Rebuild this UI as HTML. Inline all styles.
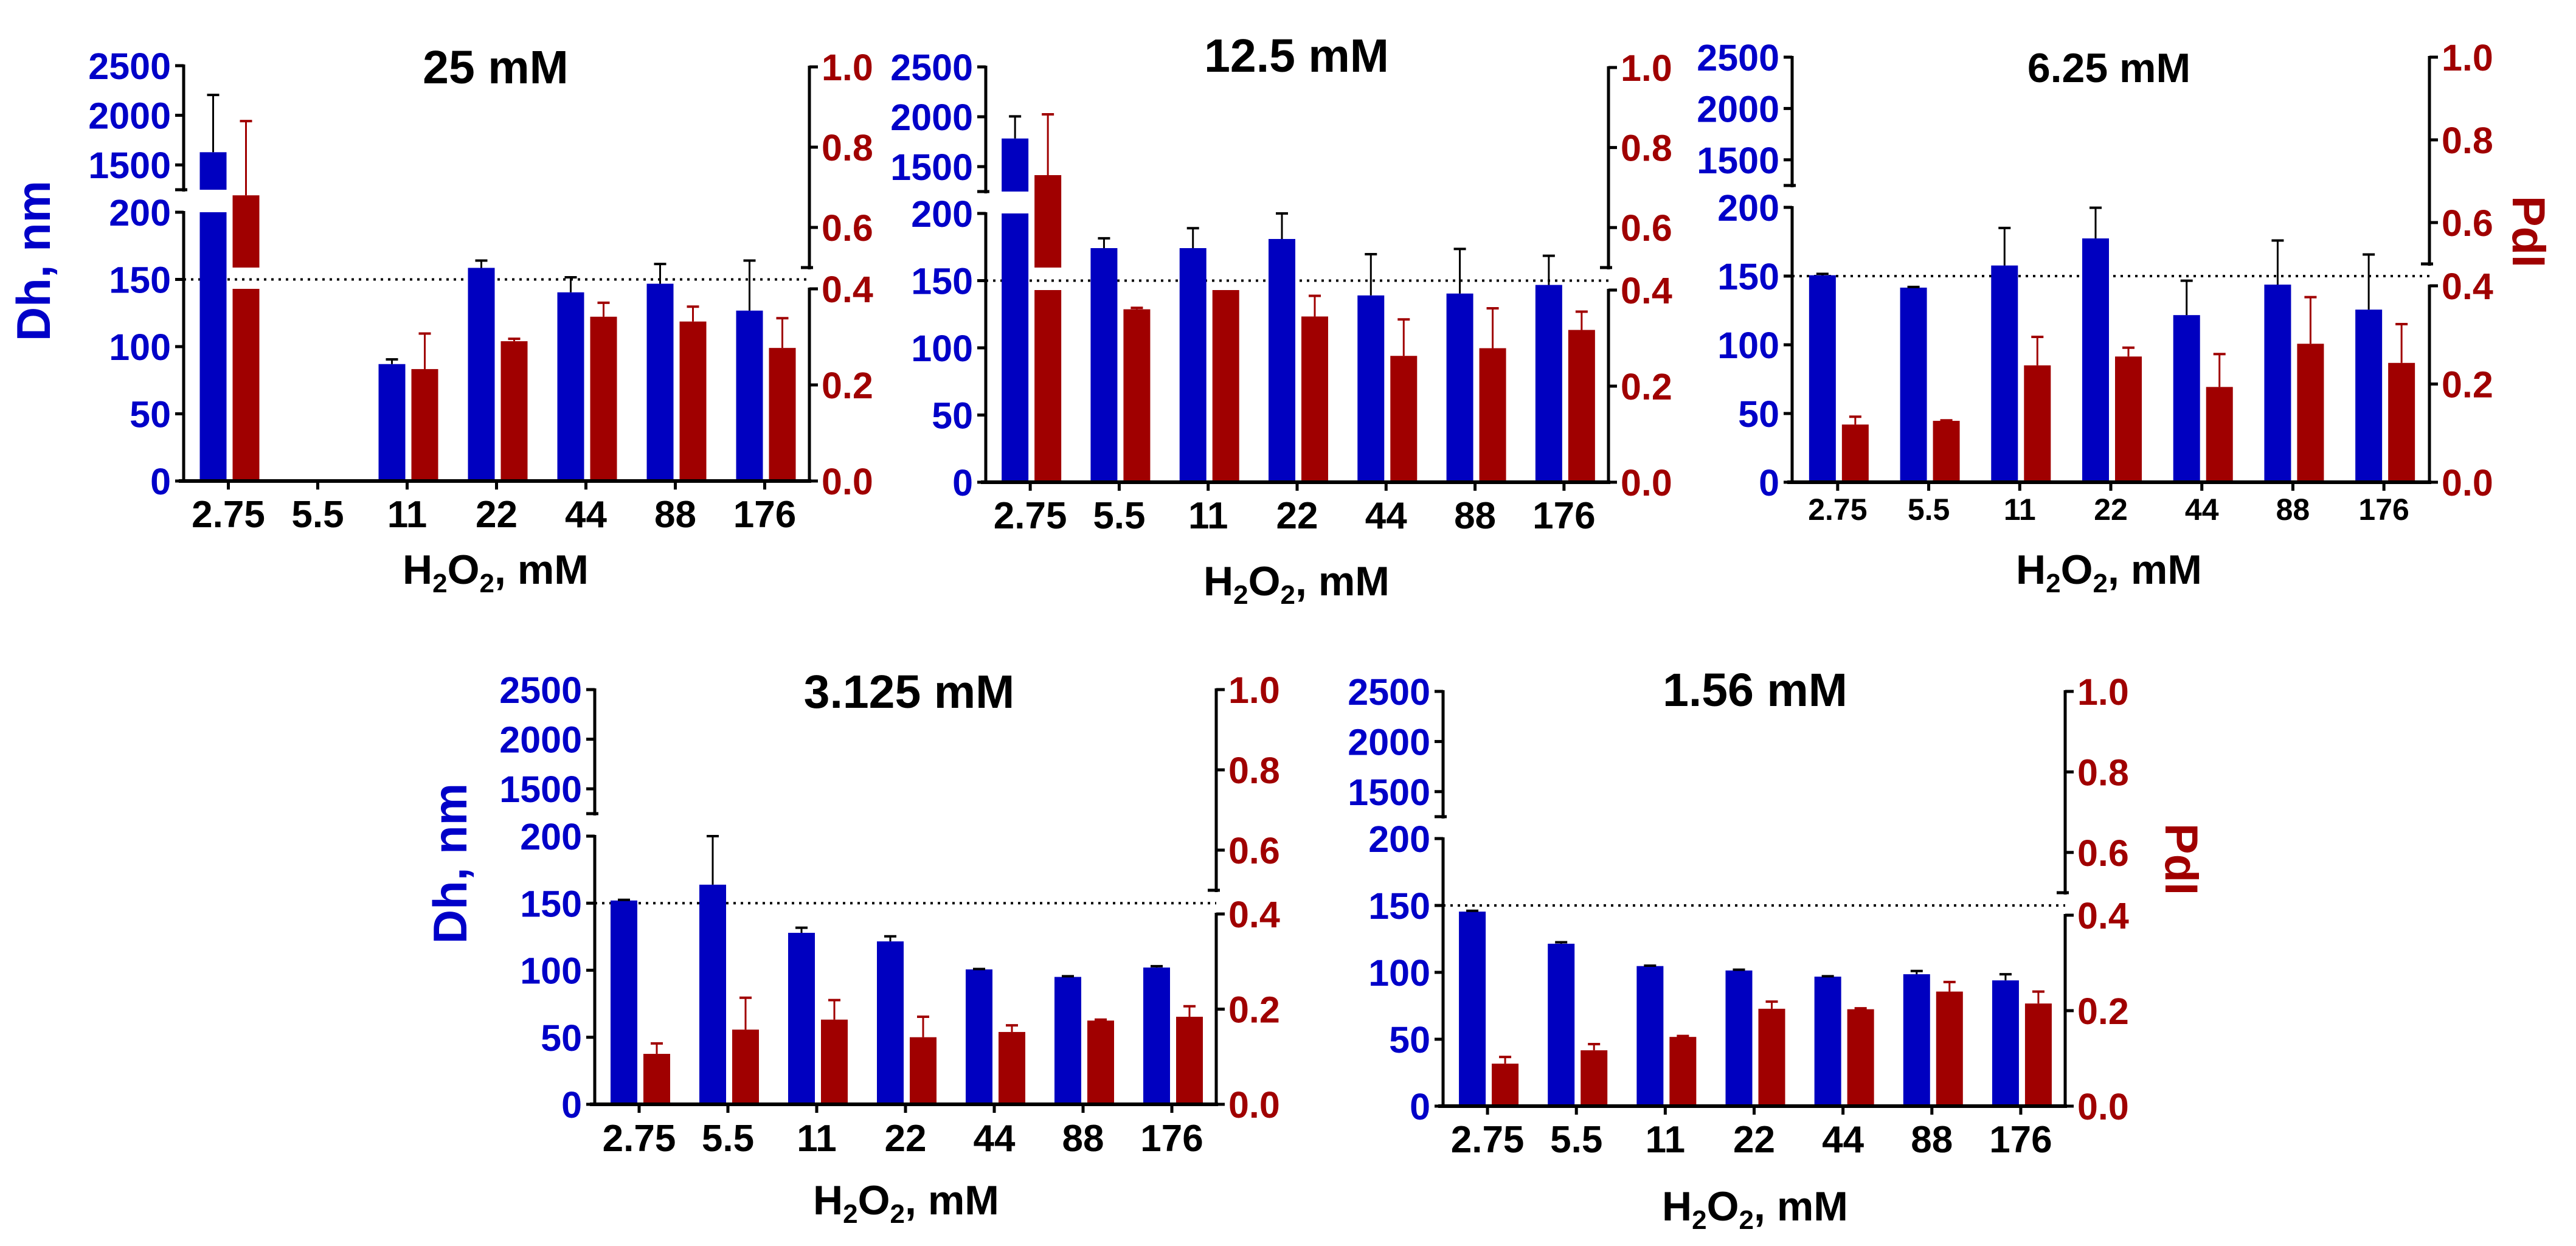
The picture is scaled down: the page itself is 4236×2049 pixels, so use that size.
<!DOCTYPE html>
<html><head><meta charset="utf-8"><style>
html,body{margin:0;padding:0;background:#fff;}
svg{display:block;font-family:"Liberation Sans",Arial,sans-serif;font-weight:bold;}
</style></head><body>
<svg id="chart" xmlns="http://www.w3.org/2000/svg" width="4236" height="2049" viewBox="0 0 4236 2049">
<rect width="4236" height="2049" fill="#fff"/>
<g id="marks"></g>
<g id="labels" font-weight="bold">
<text x="815" y="137" font-size="77" text-anchor="middle">25 mM</text>
<text x="2132" y="118" font-size="77" text-anchor="middle">12.5 mM</text>
<text x="3468" y="135" font-size="68" text-anchor="middle">6.25 mM</text>
<text x="1495" y="1164" font-size="77" text-anchor="middle">3.125 mM</text>
<text x="2886" y="1161" font-size="77" text-anchor="middle">1.56 mM</text>
<text transform="translate(82,429) rotate(-90)" font-size="78" fill="#0000C8" text-anchor="middle">Dh, nm</text>
<text transform="translate(767,1420) rotate(-90)" font-size="78" fill="#0000C8" text-anchor="middle">Dh, nm</text>
<text transform="translate(4132,381) rotate(90)" font-size="76" fill="#A00000" text-anchor="middle">PdI</text>
<text transform="translate(3561,1413) rotate(90)" font-size="76" fill="#A00000" text-anchor="middle">PdI</text>
<text x="815" y="960" font-size="68" text-anchor="middle">H<tspan font-size="44" dy="14">2</tspan><tspan dy="-14">O</tspan><tspan font-size="44" dy="14">2</tspan><tspan dy="-14">, mM</tspan></text>
<text x="2132" y="979" font-size="68" text-anchor="middle">H<tspan font-size="44" dy="14">2</tspan><tspan dy="-14">O</tspan><tspan font-size="44" dy="14">2</tspan><tspan dy="-14">, mM</tspan></text>
<text x="3468" y="960" font-size="68" text-anchor="middle">H<tspan font-size="44" dy="14">2</tspan><tspan dy="-14">O</tspan><tspan font-size="44" dy="14">2</tspan><tspan dy="-14">, mM</tspan></text>
<text x="1490" y="1997" font-size="68" text-anchor="middle">H<tspan font-size="44" dy="14">2</tspan><tspan dy="-14">O</tspan><tspan font-size="44" dy="14">2</tspan><tspan dy="-14">, mM</tspan></text>
<text x="2886" y="2007" font-size="68" text-anchor="middle">H<tspan font-size="44" dy="14">2</tspan><tspan dy="-14">O</tspan><tspan font-size="44" dy="14">2</tspan><tspan dy="-14">, mM</tspan></text>
</g>
</svg>
<script>
const categories = ["2.75","5.5","11","22","44","88","176"];
const dhLowerTicks = [0,50,100,150,200];
const dhUpperTicks = [1500,2000,2500];
const pdiLowerTicks = [0,0.2,0.4];
const pdiUpperTicks = [0.6,0.8,1.0];
const dhThreshold = 150;

const dh25 = [1628,null,87,158.6,140.4,146.8,126.8];
const dh25Sd = [577,null,3.5,5.4,11.2,14.7,37.2];
const pdi25 = [0.68,null,0.233,0.291,0.342,0.332,0.277];
const pdi25Sd = [0.185,null,0.074,0.005,0.029,0.031,0.062];

const dh125 = [1782,174.2,174.2,181,139,140.4,146.8];
const dh125Sd = [222,7.3,14.8,19,30.7,33.2,21.7];
const pdi125 = [0.731,0.36,0.40,0.345,0.263,0.279,0.317];
const pdi125Sd = [0.152,0.003,0,0.043,0.076,0.083,0.038];

const dh625 = [150.6,141.6,157.7,177.4,121.6,143.8,125.6];
const dh625Sd = [1,0.5,27.3,22.3,25,32.1,40.1];
const pdi625 = [0.1175,0.125,0.238,0.256,0.194,0.282,0.243];
const pdi625Sd = [0.016,0.001,0.058,0.018,0.067,0.095,0.079];

const dh3125 = [152,163.8,127.9,121.5,100.6,95,102];
const dh3125Sd = [0.5,36.2,3.8,3.8,0.3,0.5,1];
const pdi3125 = [0.106,0.157,0.178,0.141,0.152,0.176,0.184];
const pdi3125Sd = [0.022,0.067,0.041,0.043,0.014,0.002,0.022];

const dh156 = [145.4,121.4,104.7,101.4,96.8,98.6,94];
const dh156Sd = [0.6,1.1,0.3,0.6,0.3,2.4,4.6];
const pdi156 = [0.089,0.117,0.145,0.204,0.203,0.240,0.215];
const pdi156Sd = [0.014,0.013,0.002,0.015,0.002,0.02,0.025];

const BLUE="#0000C0", RED="#A00000", BLUE_T="#0000C8";
const NS="http://www.w3.org/2000/svg";
const root=document.getElementById('marks');
function mk(tag,attrs,parent){const e=document.createElementNS(NS,tag);for(const k in attrs)e.setAttribute(k,attrs[k]);(parent||root).appendChild(e);return e;}

const panels=[
 {n:1,L:302,R:1331,y0:791,y200:349,yBrk:312,yTop:108,yR04:475,yRBrk:440,yRTop:110,xf:62,xdy:76,dh:dh25,dhSd:dh25Sd,pdi:pdi25,pdiSd:pdi25Sd},
 {n:2,L:1621,R:2645,y0:793,y200:351,yBrk:315,yTop:110,yR04:477,yRBrk:440,yRTop:111,xf:62,xdy:76,dh:dh125,dhSd:dh125Sd,pdi:pdi125,pdiSd:pdi125Sd},
 {n:3,L:2947,R:3995,y0:793,y200:341,yBrk:305,yTop:94,yR04:470,yRBrk:434,yRTop:94,xf:50,xdy:62,dh:dh625,dhSd:dh625Sd,pdi:pdi625,pdiSd:pdi625Sd},
 {n:4,L:978,R:2000,y0:1816,y200:1375,yBrk:1338,yTop:1134,yR04:1503,yRBrk:1464,yRTop:1134,xf:62,xdy:77,dh:dh3125,dhSd:dh3125Sd,pdi:pdi3125,pdiSd:pdi3125Sd},
 {n:5,L:2373,R:3396,y0:1819,y200:1379,yBrk:1343,yTop:1137,yR04:1505,yRBrk:1468,yRTop:1137,xf:62,xdy:76,dh:dh156,dhSd:dh156Sd,pdi:pdi156,pdiSd:pdi156Sd}
];

panels.forEach(p=>{
 const g=mk('g',{});
 
 
 const yL=v=> v<=200 ? p.y0-v/200*(p.y0-p.y200) : (v>=1250 ? p.yBrk-(v-1250)/1250*(p.yBrk-p.yTop) : p.y200);
 const yR=v=> v<=0.4 ? p.y0-v/0.4*(p.y0-p.yR04) : (v>=0.5 ? p.yRBrk-(v-0.5)/0.5*(p.yRBrk-p.yRTop) : p.yR04);
 const bw=(p.R-p.L)/7;
 const cx=i=>p.L+(i+0.5)*bw;

 // dotted threshold line
 const dl=mk('line',{x1:p.L,x2:p.R,y1:yL(dhThreshold),y2:yL(dhThreshold),stroke:'#000','stroke-width':4,'stroke-dasharray':'4 8'},g);
 
 

 function bar(v,sd,x0,x1,scale,lowMax,lowTopY,brkY,color,ecolor,name){
   if(v===null) return;
   if(v>lowMax*1.0001 && scale(v)<=brkY){
     const r1=mk('rect',{x:x0,y:lowTopY,width:x1-x0,height:p.y0-lowTopY,fill:color},g);
     
     
     const r2=mk('rect',{x:x0,y:scale(v),width:x1-x0,height:brkY-scale(v),fill:color},g);
     
     
   } else {
     const r=mk('rect',{x:x0,y:scale(v),width:x1-x0,height:p.y0-scale(v),fill:color},g);
     
     
   }
   if(sd>0){
     const xm=(x0+x1)/2, yt=scale(v+sd);
     const e1=mk('line',{x1:xm,x2:xm,y1:scale(v),y2:yt,stroke:ecolor,'stroke-width':3},g);
     
     
     const e2=mk('line',{x1:xm-10,x2:xm+10,y1:yt,y2:yt,stroke:ecolor,'stroke-width':4},g);
     
     
   }
 }
 categories.forEach((c,i)=>{
   const t=cx(i);
   bar(p.dh[i],p.dhSd[i],t-47,t-3,yL,200,p.y200,p.yBrk,BLUE,'#000','bar-dh-'+c);
   bar(p.pdi[i],p.pdiSd[i],t+7,t+51,yR,0.4,p.yR04,p.yRBrk,RED,RED,'bar-pdi-'+c);
   const tk=mk('line',{x1:t,x2:t,y1:p.y0,y2:p.y0+14,stroke:'#000','stroke-width':5},g);
   
   
   const tl=mk('text',{x:t,y:p.y0+p.xdy,'font-size':p.xf,'text-anchor':'middle',fill:'#000'},g);
   tl.textContent=c;
   
   
 });

 // axes
 const ax=mk('line',{x1:p.L-8,x2:p.R+3,y1:p.y0,y2:p.y0,stroke:'#000','stroke-width':6},g);
 
 
 const segs=[[p.L,p.y0,p.y200],[p.L,p.yBrk,p.yTop],[p.R,p.y0,p.yR04],[p.R,p.yRBrk,p.yRTop]];
 segs.forEach(s=>{
   const l=mk('line',{x1:s[0],x2:s[0],y1:s[1]+3,y2:s[2]-2,stroke:'#000','stroke-width':5},g);
   
   
 });
 // break marks
 [[p.L,p.yBrk],[p.R,p.yRBrk]].forEach(b=>{
   const l=mk('line',{x1:b[0]-14,x2:b[0]+6,y1:b[1],y2:b[1],stroke:'#000','stroke-width':5},g);
   
   
 });
 // left ticks
 dhLowerTicks.concat(dhUpperTicks).forEach(v=>{
   const y=yL(v);
   const l=mk('line',{x1:p.L-14,x2:p.L,y1:y,y2:y,stroke:'#000','stroke-width':5},g);
   
   
   const t=mk('text',{x:p.L-21,y:y+22,'font-size':61,'text-anchor':'end',fill:BLUE_T},g);
   t.textContent=String(v);
   
   
 });
 pdiLowerTicks.concat(pdiUpperTicks).forEach(v=>{
   const y=yR(v);
   const l=mk('line',{x1:p.R,x2:p.R+14,y1:y,y2:y,stroke:'#000','stroke-width':5},g);
   
   
   const t=mk('text',{x:p.R+20,y:y+22,'font-size':61,'text-anchor':'start',fill:RED},g);
   t.textContent=v.toFixed(1);
   
   
 });
});
</script>
</body></html>
